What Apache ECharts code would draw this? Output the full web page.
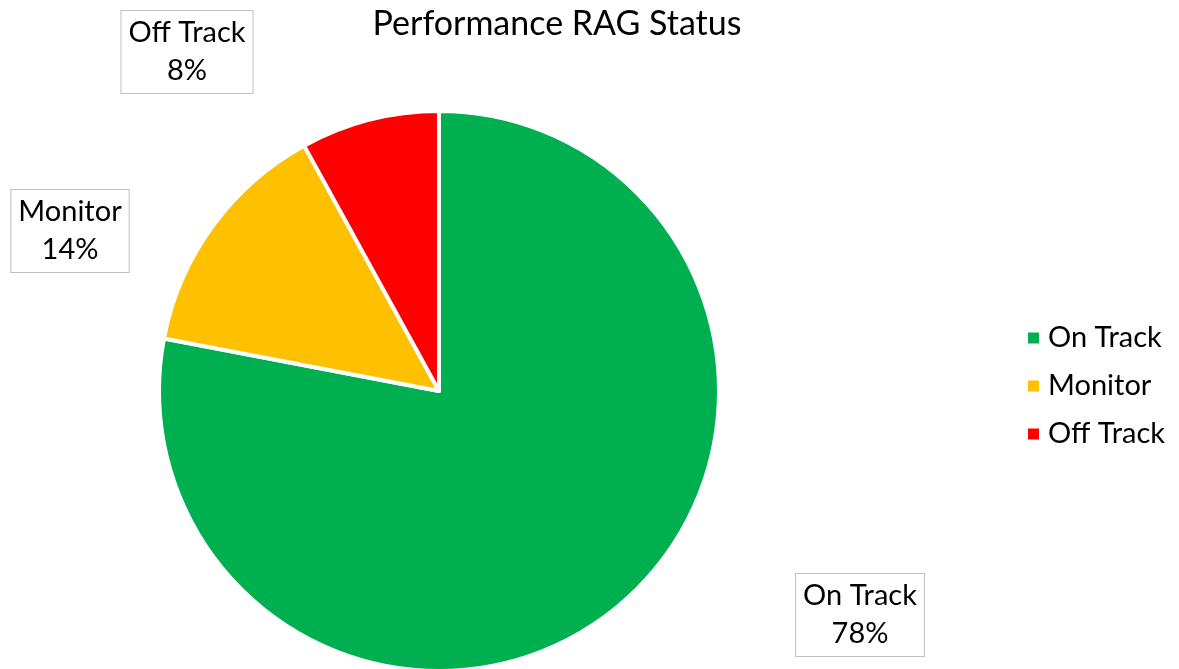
<!DOCTYPE html>
<html>
<head>
<meta charset="utf-8">
<script src="https://cdn.jsdelivr.net/npm/echarts@6/dist/echarts.min.js"></script>
<style>
  html, body { margin: 0; padding: 0; background: #fff; }
  #chart { width: 1179px; height: 669px; }
</style>
</head>
<body>
<div id="chart"></div>
<script>
// data
const categories = ['On Track', 'Monitor', 'Off Track'];
const shares = [78, 14, 8];
const colors = ['#00B050', '#FFC000', '#FF0000'];

// where the data label boxes sit (label centres, px)
const labelSpots = [[860, 615], [70, 231], [187, 52]];

const chart = echarts.init(document.getElementById('chart'));
const font = 'Lato, Carlito, Calibri, sans-serif';

chart.setOption({
  animation: false,
  title: {
    text: 'Performance RAG Status',
    left: 552,
    top: 2,
    textAlign: 'center',
    textStyle: { fontFamily: font, fontSize: 34, fontWeight: 'normal', color: '#000' }
  },
  legend: {
    orient: 'vertical',
    left: 1021,
    top: 318,
    icon: 'rect',
    itemWidth: 13,
    itemHeight: 13,
    itemGap: 18,
    data: categories,
    textStyle: { fontFamily: font, fontSize: 29, lineHeight: 30, color: '#000', padding: [0, 0, 0, 3] }
  },
  series: [{
    type: 'pie',
    center: [439, 391],
    radius: 280,
    startAngle: 90,
    clockwise: true,
    itemStyle: { borderColor: '#fff', borderWidth: 4 },
    data: categories.map((name, i) => ({
      name: name,
      value: shares[i],
      itemStyle: { color: colors[i] }
    })),
    label: {
      show: true,
      position: 'outside',
      formatter: '{b}\n{d}%',
      fontFamily: font,
      fontSize: 29,
      lineHeight: 38,
      color: '#000',
      align: 'center',
      backgroundColor: '#fff',
      borderColor: '#BFBFBF',
      borderWidth: 1,
      padding: [3, 7, 3, 7]
    },
    labelLine: { show: false },
    labelLayout: function (p) {
      const s = labelSpots[p.dataIndex];
      return { x: s[0], y: s[1], align: 'center', verticalAlign: 'middle' };
    },
    emphasis: { disabled: true }
  }]
});
</script>
</body>
</html>
